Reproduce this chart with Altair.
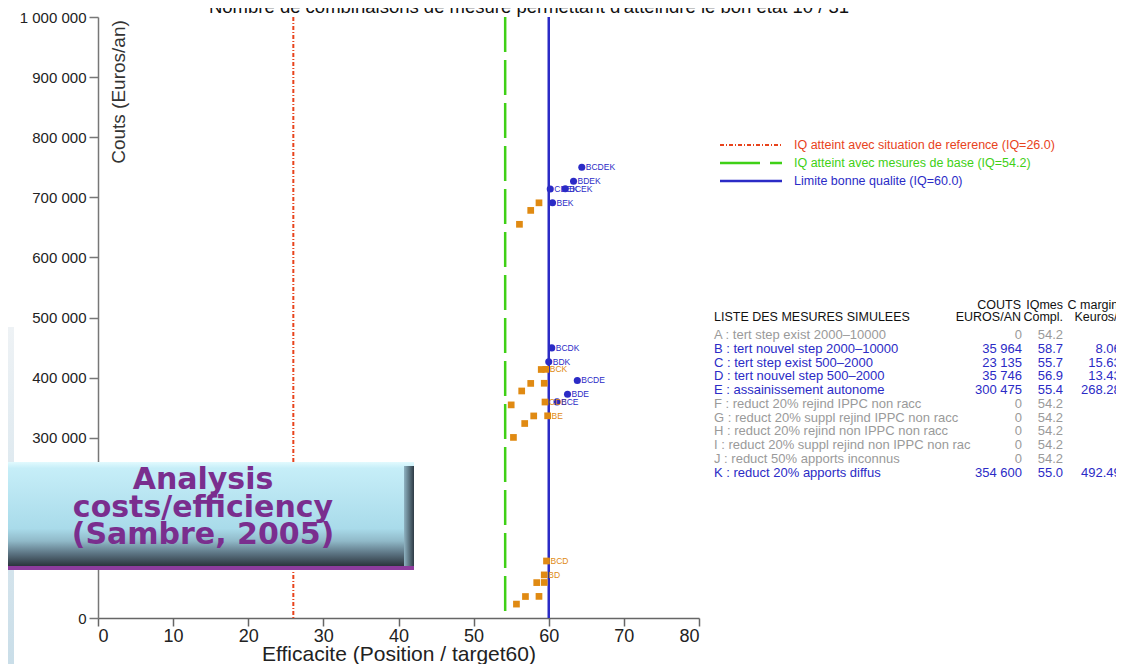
import altair as alt
import pandas as pd

# ---------------- data ----------------
combos = ["B", "C", "D", "E", "K", "BC", "BD", "BE", "BK", "CD", "CE", "CK", "DE", "DK", "EK",
          "BCD", "BCK", "CDE", "CDK", "CEK", "DEK",
          "BCE", "BDE", "BDK", "BEK", "BCDE", "BCDK", "BCEK", "BDEK", "CDEK", "BCDEK"]
efficacite = [58.7, 55.7, 56.9, 55.3, 55.0, 59.4, 59.4, 59.85, 59.4, 58.4, 56.8, 56.4, 58.0, 57.6, 56.1,
              59.7, 59.6, 59.5, 59.0, 57.6, 58.7,
              61.1, 62.5, 60.0, 60.5, 63.8, 60.4, 62.2, 63.3, 60.2, 64.4]
couts_pts = [35964, 23135, 35746, 300475, 354600, 59099, 71710, 336439, 390564, 58881, 323610, 377735,
             336221, 390346, 655075,
             94845, 413699, 359356, 413481, 678210, 690821,
             359574, 372185, 426310, 691039, 395320, 449445, 714174, 726785, 713956, 749920]
bon_etat = [False] * 21 + [True] * 10
etiquettes = ["", "", "", "", "", "", "BD", "BE", "", "", "", "", "", "", "",
              "BCD", "BCK", "CDE", "", "", "",
              "BCE", "BDE", "BDK", "BEK", "BCDE", "BCDK", "BCEK", "BDEK", "CDEK", "BCDEK"]

iq_lines = [26.0, 54.2, 60.0]
legend_texts = ["IQ atteint avec situation de reference (IQ=26.0)",
                "IQ atteint avec mesures de base (IQ=54.2)",
                "Limite bonne qualite (IQ=60.0)"]

mesures = ["A : tert step exist 2000\u201310000",
           "B : tert nouvel step 2000\u201310000",
           "C : tert step exist 500\u20132000",
           "D : tert nouvel step 500\u20132000",
           "E : assainissement autonome",
           "F : reduct 20% rejind IPPC non racc",
           "G : reduct 20% suppl rejind IPPC non racc",
           "H : reduct 20% rejind non IPPC non racc",
           "I : reduct 20% suppl rejind non IPPC non rac",
           "J : reduct 50% apports inconnus",
           "K : reduct 20% apports diffus"]
couts_tab = ["0", "35 964", "23 135", "35 746", "300 475", "0", "0", "0", "0", "0", "354 600"]
iq_tab = ["54.2", "58.7", "55.7", "56.9", "55.4", "54.2", "54.2", "54.2", "54.2", "54.2", "55.0"]
cm_tab = ["-", "8.064", "15.632", "13.438", "268.282", "-", "-", "-", "-", "-", "492.499"]
actif = [False, True, True, True, True, False, False, False, False, False, True]

y_ticks = [0, 100000, 200000, 300000, 400000, 500000, 600000, 700000, 800000, 900000, 1000000]
x_ticks = [0, 10, 20, 30, 40, 50, 60, 70, 80]

# ---------------- styles ----------------
ORANGE = "#e08a12"
BLUE = "#2b2bc6"
RED = "#e8431c"
GREEN = "#3fd016"
GRAY = "#9a9a9a"
PURPLE = "#7a2e8e"
NARROW = "Liberation Sans Narrow, Arial Narrow, Liberation Sans, sans-serif"
SANS = "Liberation Sans, Arial, sans-serif"

df = pd.DataFrame({"eff": efficacite, "cost": couts_pts, "combo": combos,
                   "lab": etiquettes, "ok": bon_etat})
df["col"] = [BLUE if o else ORANGE for o in bon_etat]

xenc = alt.X("eff:Q", scale=alt.Scale(domain=[0, 80], nice=False, zero=False),
             axis=alt.Axis(values=x_ticks, title="Efficacite (Position / target60)",
                           grid=False, domainColor="#666", domainWidth=1.5, tickColor="#666",
                           tickWidth=1.5, tickSize=8, labelFont=NARROW, labelFontSize=18,
                           labelColor="#222", labelPadding=1, titleFont=NARROW, titleFontSize=21,
                           titleFontWeight="normal", titleColor="#222", titlePadding=-2))
yenc = alt.Y("cost:Q", scale=alt.Scale(domain=[0, 1000000], nice=False),
             axis=alt.Axis(values=y_ticks, title=None, grid=False,
                           labelExpr="replace(replace(format(datum.value, ','), ',', ' '), ',', ' ')",
                           domainColor="#777", domainWidth=1.5, tickColor="#777", tickWidth=1.5,
                           tickSize=9, labelFont=SANS, labelFontSize=15, labelColor="#222",
                           labelPadding=3))

one = alt.Data(values=[{"k": 1}])

def deco():
    return alt.Chart(one)

# left slide strip
strip = deco().mark_rect(fill=alt.LinearGradient(
    gradient="linear", x1=0, x2=0, y1=0, y2=1,
    stops=[alt.GradientStop(color="#eef2f5", offset=0),
           alt.GradientStop(color="#c8dde8", offset=1)])).encode(
    x=alt.value(-98), x2=alt.value(-84), y=alt.value(310), y2=alt.value(660))

# reference lines
def vline(v, color, dash, w):
    return alt.Chart(pd.DataFrame({"eff": [v]})).mark_rule(
        color=color, strokeDash=dash, strokeWidth=w).encode(x=xenc)

r_red = vline(iq_lines[0], RED, [4, 2, 1, 2], 2)
r_green = vline(iq_lines[1], GREEN, [35, 8], 2.5)
r_blue = vline(iq_lines[2], BLUE, [1, 0], 2.5)

base = alt.Chart(df)
squares = base.transform_filter("!datum.ok").mark_square(size=45, color=ORANGE, opacity=1).encode(
    x=xenc, y=yenc)
circles = base.transform_filter("datum.ok").mark_circle(size=50, color=BLUE, opacity=1).encode(
    x=xenc, y=yenc)
pt_labels = base.transform_filter("datum.lab != ''").mark_text(
    align="left", baseline="middle", dx=4, font=NARROW, fontSize=8.5).encode(
    x=xenc, y=yenc, text="lab:N", color=alt.Color("col:N", scale=None, legend=None))

# overlay box
box = deco().mark_rect(fill=alt.LinearGradient(
    gradient="linear", x1=0, x2=0, y1=0, y2=1,
    stops=[alt.GradientStop(color="#e2fafe", offset=0),
           alt.GradientStop(color="#c6eef8", offset=0.06),
           alt.GradientStop(color="#a9dbea", offset=0.64),
           alt.GradientStop(color="#90b9c8", offset=0.76),
           alt.GradientStop(color="#5c7483", offset=0.88),
           alt.GradientStop(color="#2b343c", offset=1)])).encode(
    x=alt.value(-98), x2=alt.value(316), y=alt.value(445), y2=alt.value(549))
box_edge = deco().mark_rect(fill=alt.LinearGradient(
    gradient="linear", x1=0, x2=1, y1=0, y2=0,
    stops=[alt.GradientStop(color="#8fb3c2", offset=0),
           alt.GradientStop(color="#2e3b45", offset=1)])).encode(
    x=alt.value(306), x2=alt.value(316), y=alt.value(449), y2=alt.value(549))
box_line = deco().mark_rect(fill="#8e3c9e").encode(
    x=alt.value(-98), x2=alt.value(316), y=alt.value(549), y2=alt.value(553))
box_lines = ["Analysis", "costs/efficiency", "(Sambre, 2005)"]
box_df = pd.DataFrame({"t": box_lines, "py": [463, 491, 518]})
box_text = alt.Chart(box_df).mark_text(
    align="center", baseline="middle", font="DejaVu Sans, Verdana, sans-serif",
    fontSize=30, fontWeight="bold", color=PURPLE).encode(
    x=alt.value(105), y=alt.Y("py:Q", scale=None, axis=None), text="t:N")

# legend (top right)
leg_layers = []
leg_specs = [(RED, [4, 2, 1, 2], 2), (GREEN, [40, 10], 2.5), (BLUE, [1, 0], 2.5)]
leg_y = [128, 146, 164]
for (c, d, w), t, yy in zip(leg_specs, legend_texts, leg_y):
    leg_layers.append(deco().mark_rule(color=c, strokeDash=d, strokeWidth=w).encode(
        x=alt.value(622), x2=alt.value(684), y=alt.value(yy)))
    leg_layers.append(deco().mark_text(align="left", baseline="middle", font=NARROW,
                                       fontSize=12.5, color=c, text=t).encode(
        x=alt.value(696), y=alt.value(yy)))

# table of measures
tab = pd.DataFrame({"m": mesures, "c": couts_tab, "iq": iq_tab, "cm": cm_tab})
tab["py"] = [318 + 13.75 * i for i in range(len(mesures))]
tab["col"] = [BLUE if a else GRAY for a in actif]
tbase = alt.Chart(tab)
tyenc = alt.Y("py:Q", scale=None, axis=None)
tcol = alt.Color("col:N", scale=None, legend=None)
t_m = tbase.mark_text(align="left", baseline="middle", font=NARROW, fontSize=13).encode(
    x=alt.value(616), y=tyenc, text="m:N", color=tcol)
t_c = tbase.mark_text(align="right", baseline="middle", font=NARROW, fontSize=13).encode(
    x=alt.value(924), y=tyenc, text="c:N", color=tcol)
t_iq = tbase.mark_text(align="right", baseline="middle", font=NARROW, fontSize=13).encode(
    x=alt.value(965), y=tyenc, text="iq:N", color=tcol)
t_cm = tbase.mark_text(align="right", baseline="middle", font=NARROW, fontSize=13).encode(
    x=alt.value(1030), y=tyenc, text="cm:N", color=tcol)

hdr = pd.DataFrame({
    "t": ["LISTE DES MESURES SIMULEES", "COUTS", "EUROS/AN", "IQmes", "Compl.", "C marginal", "Keuros/pt"],
    "px": [616, 923, 923, 965, 965, 1030, 1030],
    "py": [300, 288, 300, 288, 300, 288, 300],
    "al": ["left", "right", "right", "right", "right", "right", "right"]})
hdr_left = alt.Chart(hdr).transform_filter("datum.al == 'left'").mark_text(
    align="left", baseline="middle", font=NARROW, fontSize=12.5, color="#111").encode(
    x=alt.X("px:Q", scale=None, axis=None), y=alt.Y("py:Q", scale=None, axis=None), text="t:N")
hdr_right = alt.Chart(hdr).transform_filter("datum.al == 'right'").mark_text(
    align="right", baseline="middle", font=NARROW, fontSize=12.5, color="#111").encode(
    x=alt.X("px:Q", scale=None, axis=None), y=alt.Y("py:Q", scale=None, axis=None), text="t:N")

# titles
title = deco().mark_text(align="center", baseline="alphabetic", font=SANS, fontSize=18.5,
                         color="#111",
                         text="Nombre de combinaisons de mesure permettant d'atteindre le bon etat   10 /  31").encode(
    x=alt.value(431), y=alt.value(-4))
ytitle = deco().mark_text(align="center", baseline="middle", font=SANS, fontSize=19, angle=270,
                          color="#333", text="Couts (Euros/an)").encode(
    x=alt.value(21), y=alt.value(75))

chart = alt.layer(
    strip, r_red, r_green, r_blue, squares, circles, pt_labels,
    box, box_edge, box_line, box_text,
    *leg_layers, t_m, t_c, t_iq, t_cm, hdr_left, hdr_right, title, ytitle
).properties(
    width=601, height=601,
    padding={"left": 90, "top": 9, "right": 417, "bottom": 46},
    autosize=alt.AutoSizeParams(type="none"),
    background="white",
).configure_view(strokeWidth=0)

chart.save("out.html", embed_options={"renderer": "svg", "actions": False})
